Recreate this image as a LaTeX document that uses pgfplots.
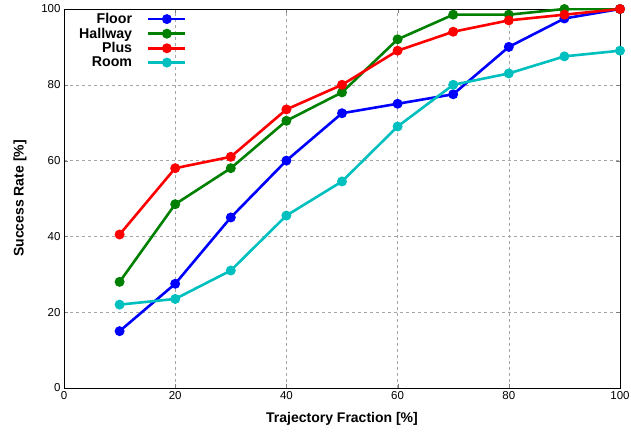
\documentclass[border=0pt]{standalone}
\usepackage{fontspec}
\setmainfont{Liberation Sans}
\usepackage{pgfplots}
\pgfplotsset{compat=1.18}
\definecolor{gblue}{RGB}{0,0,255}
\definecolor{ggreen}{RGB}{0,128,0}
\definecolor{gred}{RGB}{255,0,0}
\definecolor{gcyan}{RGB}{0,191,191}
\begin{document}
\begin{tikzpicture}[x=1pt,y=1pt]
\useasboundingbox (-64,-49) rectangle (567,388);
\begin{axis}[
  at={(0,0)}, anchor=south west,
  scale only axis, width=556pt, height=379pt,
  xmin=0, xmax=100, ymin=0, ymax=100,
  xtick={0,20,...,100}, ytick={0,20,...,100},
  tick align=inside, tick pos=both,
  major tick length=4pt,
  grid=major,
  major grid style={dashed, gray!70, line width=0.5pt},
  axis line style={line width=0.8pt},
  /pgf/number format/assume math mode=true,
  ticklabel style={font=\fontsize{11.5}{13}\selectfont},
  xlabel={\textbf{Trajectory Fraction [\%]}},
  ylabel={\textbf{Success Rate [\%]}},
  label style={font=\fontsize{14}{16}\selectfont},
  xlabel style={yshift=-6pt},
  ylabel style={yshift=8pt},
  legend style={at={(0.018,1.0)}, anchor=north west, draw=none, fill=none,
    font=\fontsize{14.2}{15}\selectfont\bfseries, row sep=-1.2pt},
  legend cell align=right,
  legend plot pos=right,
  legend image code/.code={\path (0pt,0pt); \draw[mark repeat=2,mark phase=2] plot coordinates {(13pt,0pt)(31.5pt,0pt)(50pt,0pt)};},
  every axis plot/.append style={line width=2.6pt, mark=*, mark size=3.6pt, mark options={solid}},
]
\addplot[color=gblue] coordinates {(10,15) (20,27.5) (30,45) (40,60) (50,72.5) (60,75) (70,77.5) (80,90) (90,97.5) (100,100)};
\addlegendentry{Floor}
\addplot[color=ggreen] coordinates {(10,28) (20,48.5) (30,58) (40,70.5) (50,78) (60,92) (70,98.5) (80,98.5) (90,100) (100,100)};
\addlegendentry{Hallway}
\addplot[color=gred] coordinates {(10,40.5) (20,58) (30,61) (40,73.5) (50,80) (60,89) (70,94) (80,97) (90,98.5) (100,100)};
\addlegendentry{Plus}
\addplot[color=gcyan] coordinates {(10,22) (20,23.5) (30,31) (40,45.5) (50,54.5) (60,69) (70,80) (80,83) (90,87.5) (100,89)};
\addlegendentry{Room}
\end{axis}
\end{tikzpicture}
\end{document}
